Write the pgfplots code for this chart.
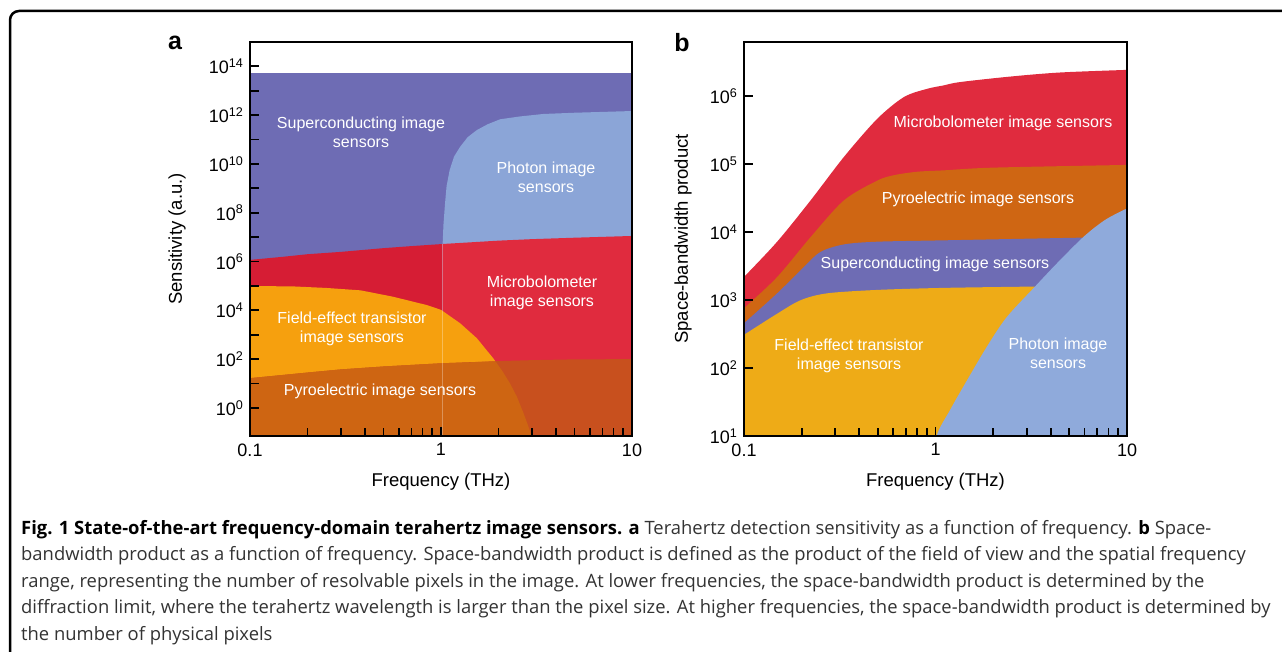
\documentclass[border=0pt]{standalone}
\usepackage{fontspec}
\setmainfont{Liberation Sans}
\newfontfamily\capfont{Open Sans}
\usepackage{pgfplots}
\pgfplotsset{compat=1.18}
\definecolor{cPurple}{RGB}{110,108,180}
\definecolor{cPhotonA}{RGB}{139,165,215}
\definecolor{cRedR}{RGB}{224,43,62}
\definecolor{cRedL}{RGB}{214,29,52}
\definecolor{cFetA}{RGB}{246,160,14}
\definecolor{cPyroL}{RGB}{206,101,18}
\definecolor{cPyroR}{RGB}{200,80,30}
\definecolor{cPyroB}{RGB}{207,102,19}
\definecolor{cFetB}{RGB}{238,171,23}
\definecolor{cPhotonB}{RGB}{143,170,219}
\definecolor{capgray}{RGB}{51,51,51}
\pgfplotsset{panel/.style={
  scale only axis, height=394pt, anchor=south west,
  xmin=0.1, xmax=10,
  axis on top, clip=true,
  tick align=inside, xtick pos=left, ytick pos=left,
  xtick={0.1,1,10}, xticklabels={0.1,1,10},
  major tick length=9pt, minor tick length=8pt,
  axis line style={line width=1.8pt},
  tick style={black, line width=1.8pt},
  yminorticks=false,
  tick label style={font=\fontsize{18}{21}\selectfont},
  xticklabel style={yshift=-4pt},
  yticklabel style={xshift=-3pt},
  label style={font=\fontsize{18.5}{22}\selectfont},
}}
\begin{document}
\begin{tikzpicture}
\path[use as bounding box] (0pt,0pt) rectangle (1282pt,651pt);
\draw[line width=2.5pt, rounded corners=9pt] (10pt,-10pt) -- (10pt,640pt) -- (1300pt,640pt);
% ---------------- panel a ----------------
\begin{axis}[xmode=log, ymode=log, panel, at={(250pt,215pt)}, width=382pt,
  ymin=0.0708, ymax=1e15,
  ytick={1,1e1,1e2,1e3,1e4,1e5,1e6,1e7,1e8,1e9,1e10,1e11,1e12,1e13,1e14},
  yticklabels={10\textsuperscript{0},,10\textsuperscript{2},,10\textsuperscript{4},,10\textsuperscript{6},,10\textsuperscript{8},,10\textsuperscript{10},,10\textsuperscript{12},,10\textsuperscript{14}},
  xlabel={Frequency (THz)}, xlabel style={at={(axis description cs:0.5,-0.117)}, anchor=center},
  ylabel={Sensitivity (a.u.)}, ylabel style={at={(axis description cs:-0.191,0.5)}, anchor=center},
]
% superconducting
\addplot[fill=cPurple, draw=none] coordinates {(0.05,1e-3) (0.05,5.37e13) (20,5.37e13) (20,1e-3)};
% photon
\addplot[fill=cPhotonA, draw=none] coordinates {(1.02,1e-3) (1.02,5.25e6) (1.03,3.2e7) (1.05,2.45e8) (1.07,1.26e9) (1.11,5.6e9) (1.17,2.0e10) (1.26,5.1e10) (1.38,1.26e11) (1.54,2.45e11) (1.75,4.2e11) (2.04,6.8e11) (2.6,8.9e11) (3.43,1.12e12) (5,1.26e12) (10,1.48e12) (20,1.5e12) (20,1e-3)};
% microbolometer (left, right)
\addplot[fill=cRedL, draw=none] coordinates {(0.05,1e-3) (0.05,1.17e6) (0.1,1.17e6) (0.15,1.58e6) (0.2,2.0e6) (0.3,2.5e6) (0.5,3.55e6) (0.7,4.3e6) (1.02,5.25e6) (1.02,1e-3)};
\addplot[fill=cRedR, draw=none] coordinates {(1.02,1e-3) (1.02,5.25e6) (2,7.2e6) (3,8.3e6) (5,9.5e6) (10,1.12e7) (20,1.12e7) (20,1e-3)};
% field-effect transistor
\addplot[fill=cFetA, draw=none] coordinates {(0.05,1e-3) (0.05,1e5) (0.1,1e5) (0.17,9.55e4) (0.25,8.3e4) (0.38,6.6e4) (0.56,3.63e4) (0.84,1.66e4) (1,1.05e4) (1.26,2.95e3) (1.54,724) (1.88,107) (2.1,31.6) (2.3,10) (2.5,2.82) (2.7,0.63) (2.85,0.2) (3.0,0.063) (3.0,1e-3)};
% pyroelectric
\addplot[fill=cPyroR, draw=none] coordinates {(0.05,1e-3) (0.05,16.6) (0.1,16.6) (0.2,28.2) (0.3,38) (0.5,50) (1,67.6) (2,83) (3,91) (5,98) (10,100) (20,100) (20,1e-3)};
\addplot[fill=cPyroL, draw=none] coordinates {(0.05,1e-3) (0.05,16.6) (0.1,16.6) (0.2,28.2) (0.3,38) (0.5,50) (1,67.6) (1.93,81) (2.1,31.6) (2.3,10) (2.5,2.82) (2.7,0.63) (2.85,0.2) (3.0,0.063) (3.0,1e-3)};
% faint edge of photon region
\addplot[white, opacity=0.3, line width=0.8pt] coordinates {(1.02,1e-3) (1.02,5.25e6)};
\end{axis}
% ---------------- panel b ----------------
\begin{axis}[xmode=log, ymode=log, panel, at={(744pt,215pt)}, width=383pt,
  ymin=10, ymax=6.3e6,
  ytick={1e1,1e2,1e3,1e4,1e5,1e6},
  yticklabels={10\textsuperscript{1},10\textsuperscript{2},10\textsuperscript{3},10\textsuperscript{4},10\textsuperscript{5},10\textsuperscript{6}},
  xlabel={Frequency (THz)}, xlabel style={at={(axis description cs:0.5,-0.117)}, anchor=center},
  ylabel={Space-bandwidth product}, ylabel style={at={(axis description cs:-0.159,0.5)}, anchor=center},
]
\addplot[fill=cRedR, draw=none, smooth, tension=0.5] coordinates {(0.08,1) (0.08,1122) (0.1,2188) (0.149,7244) (0.223,29500) (0.333,128800) (0.497,468000) (0.685,977000) (0.906,1.29e6) (1.107,1.45e6) (1.343,1.62e6) (2.449,1.95e6) (4.467,2.24e6) (10,2.45e6) (12,2.5e6) (12,1)};
\addplot[fill=cPyroB, draw=none, smooth, tension=0.5] coordinates {(0.08,1) (0.08,427) (0.1,759) (0.149,2188) (0.223,8500) (0.333,29500) (0.497,57500) (0.607,69000) (0.803,77600) (1.107,81300) (2.004,89130) (10,97720) (12,98500) (12,1)};
\addplot[fill=cPurple, draw=none, smooth, tension=0.5] coordinates {(0.08,1) (0.08,263) (0.1,457) (0.149,1259) (0.206,3090) (0.251,5130) (0.333,6610) (0.497,7244) (1.107,7586) (5.916,8318) (10,8511) (12,8600) (12,1)};
\addplot[fill=cFetB, draw=none, smooth, tension=0.5] coordinates {(0.08,1) (0.08,209) (0.1,309) (0.149,631) (0.198,1000) (0.272,1259) (0.497,1413) (1.107,1514) (3.311,1585) (10,1660) (12,1680) (12,1)};
\addplot[fill=cPhotonB, draw=none, smooth, tension=0.5] coordinates {(0.98,1) (0.98,3) (1.014,10) (1.19,24) (1.396,53) (1.85,204) (2.355,562) (3.31,1585) (4.30,3467) (5.92,8511) (7.67,15100) (10,22387) (12,28000) (12,1)};
\end{axis}
% ---------------- in-chart labels ----------------
\begin{scope}[every node/.style={text=white, align=center, font=\fontsize{16}{19}\selectfont, inner sep=0pt}]
\node at (361pt,519pt) {Superconducting image\\sensors};
\node at (546pt,474pt) {Photon image\\sensors};
\node at (542pt,358pt) {Microbolometer\\image sensors};
\node at (352pt,322pt) {Field-effect transistor\\image sensors};
\node at (380pt,260pt) {Pyroelectric image sensors};
\node at (1003pt,528pt) {Microbolometer image sensors};
\node at (978pt,452pt) {Pyroelectric image sensors};
\node at (935pt,387pt) {Superconducting image sensors};
\node at (849pt,295pt) {Field-effect transistor\\image sensors};
\node at (1058pt,298pt) {Photon image\\sensors};
\end{scope}
\node[font=\fontsize{25}{28}\selectfont\bfseries] at (175pt,608pt) {a};
\node[font=\fontsize{25}{28}\selectfont\bfseries] at (682pt,608pt) {b};
% ---------------- caption ----------------
\begin{scope}[every node/.style={anchor=base west, inner sep=0pt, text=capgray, font=\capfont\fontsize{18.4}{22}\selectfont}]
\node at (21pt,117pt) {\textcolor{black}{\bfseries Fig. 1 State-of-the-art frequency-domain terahertz image sensors. a} Terahertz detection sensitivity as a function of frequency. \textcolor{black}{\bfseries b} Space-};
\node at (21pt,90.5pt) {bandwidth product as a function of frequency. Space-bandwidth product is defined as the product of the field of view and the spatial frequency};
\node at (21pt,64pt) {range, representing the number of resolvable pixels in the image. At lower frequencies, the space-bandwidth product is determined by the};
\node at (21pt,37.5pt) {diffraction limit, where the terahertz wavelength is larger than the pixel size. At higher frequencies, the space-bandwidth product is determined by};
\node at (21pt,11pt) {the number of physical pixels};
\end{scope}
\end{tikzpicture}
\end{document}
